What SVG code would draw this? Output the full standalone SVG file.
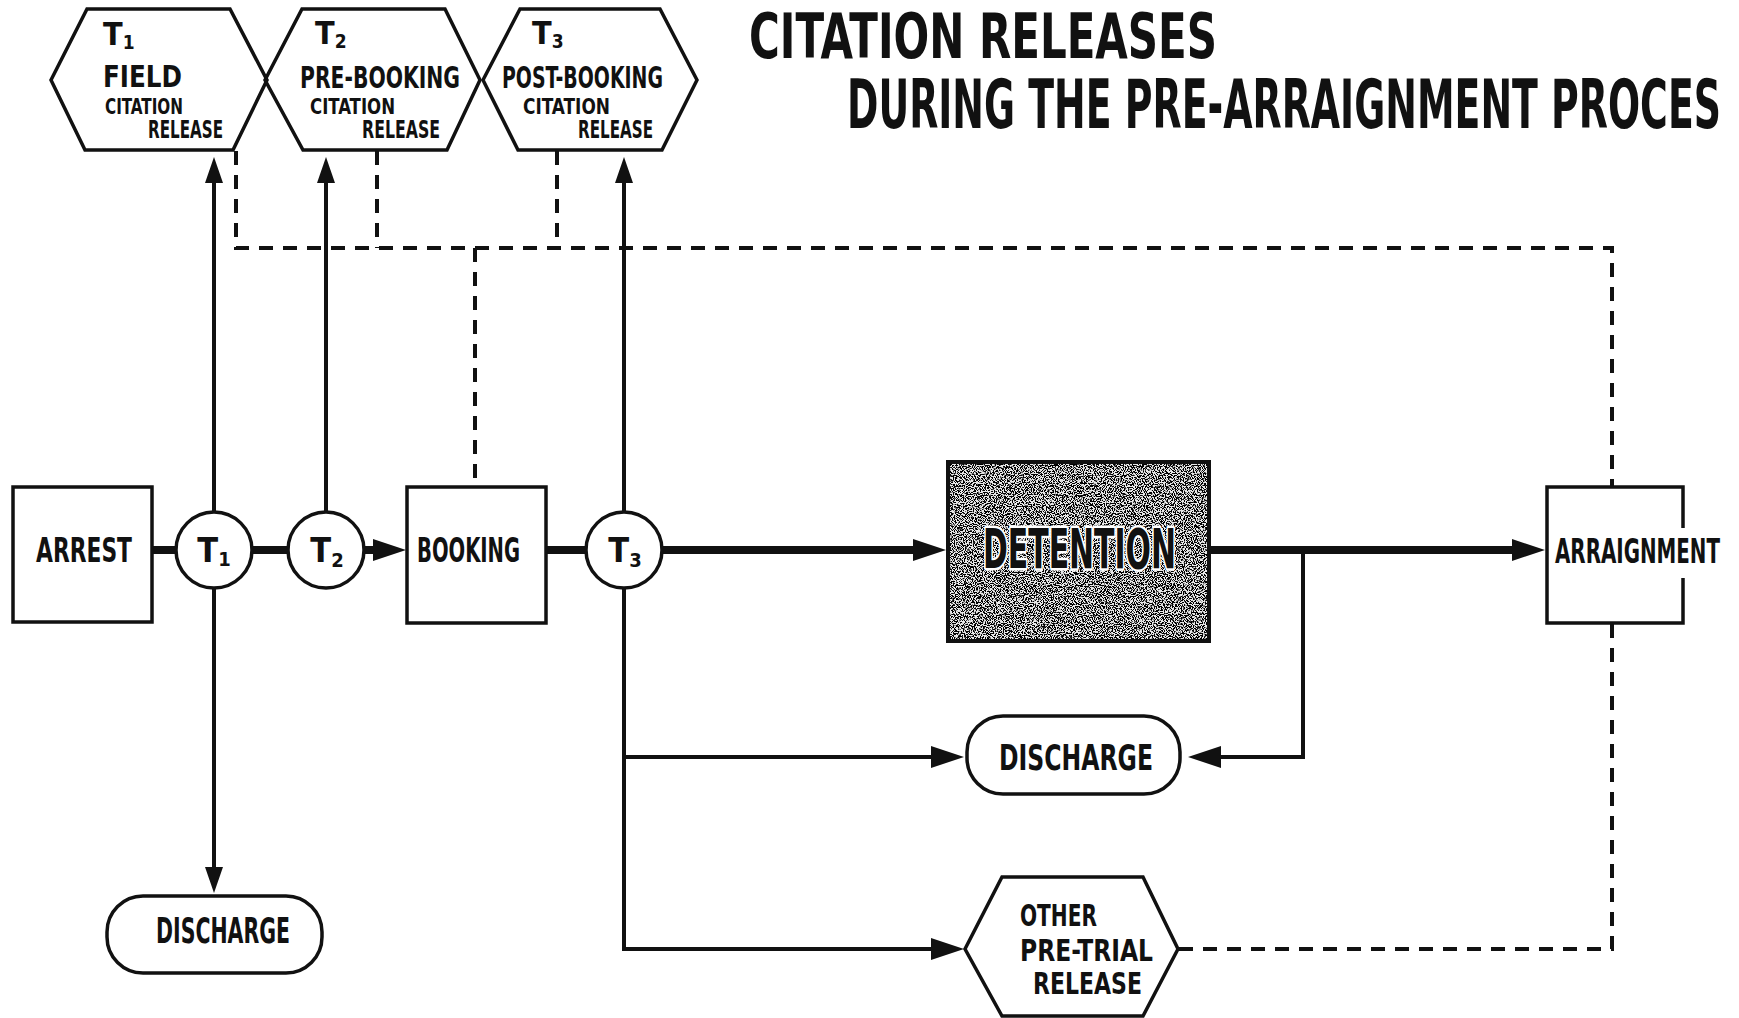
<svg xmlns="http://www.w3.org/2000/svg" width="1739" height="1018" viewBox="0 0 1739 1018">
<style>
text { font-family: "DejaVu Sans Condensed", "DejaVu Sans", "Liberation Sans", sans-serif; font-weight: bold; fill: #111; }
.box { fill: #fff; stroke: #111; stroke-width: 3.5; }
.thick { fill: none; stroke: #111; stroke-width: 8; }
.thin { fill: none; stroke: #111; stroke-width: 4; }
.dash { fill: none; stroke: #111; stroke-width: 4; stroke-dasharray: 14 10; }
</style>
<defs>
  <marker id="arr" viewBox="0 0 33 22" markerWidth="33" markerHeight="22" refX="21" refY="11" markerUnits="userSpaceOnUse" orient="auto">
    <path d="M0,0 L33,11 L0,22 z" fill="#111"/>
  </marker>
  <marker id="arrs" viewBox="0 0 26 18" markerWidth="26" markerHeight="18" refX="18" refY="9" markerUnits="userSpaceOnUse" orient="auto">
    <path d="M0,0 L26,9 L0,18 z" fill="#111"/>
  </marker>
  <filter id="speckle" x="0" y="0" width="1" height="1">
    <feTurbulence type="fractalNoise" baseFrequency="0.9" numOctaves="1" seed="7" result="noise"/>
    <feColorMatrix in="noise" type="matrix" values="0 0 0 0 0  0 0 0 0 0  0 0 0 0 0  14 0 0 0 -6.6" result="dots"/>
    <feComposite in="dots" in2="SourceGraphic" operator="in"/>
  </filter>
</defs>
<rect x="0" y="0" width="1739" height="1018" fill="#fff"/>

<g id="title">
  <text x="749" y="58" font-size="62" textLength="468" lengthAdjust="spacingAndGlyphs">CITATION RELEASES</text>
  <text x="847" y="128" font-size="68" textLength="874" lengthAdjust="spacingAndGlyphs">DURING THE PRE-ARRAIGNMENT PROCES</text>
</g>

<g id="connectors">
  <path class="thick" d="M152,550 H176"/>
  <path class="thick" d="M252,550 H288"/>
  <path class="thick" d="M364,550 H394" marker-end="url(#arr)"/>
  <path class="thick" d="M546,550 H586"/>
  <path class="thick" d="M662,550 H934" marker-end="url(#arr)"/>
  <path class="thick" d="M1209,550 H1533" marker-end="url(#arr)"/>
  <path class="thin" d="M214,512 V165" marker-end="url(#arrs)"/>
  <path class="thin" d="M326,512 V165" marker-end="url(#arrs)"/>
  <path class="thin" d="M624,512 V165" marker-end="url(#arrs)"/>
  <path class="thin" d="M214,588 V885" marker-end="url(#arrs)"/>
  <path class="thin" d="M624,589 V949 H952" marker-end="url(#arr)"/>
  <path class="thin" d="M624,757 H952" marker-end="url(#arr)"/>
  <path class="thin" d="M1303,550 V757 H1200" marker-end="url(#arr)"/>
  <path class="dash" d="M236,151 V248 H1612 V487"/>
  <path class="dash" d="M377,151 V248"/>
  <path class="dash" d="M557,151 V248"/>
  <path class="dash" d="M475,248 V487"/>
  <path class="dash" d="M1179,949 H1612 V623"/>
</g>

<g id="hex-field">
  <polygon class="box" points="51,80 87,9 230,9 267,80 233,150 85,150"/>
  <text x="103" y="45" font-size="32">T<tspan font-size="19" dy="4">1</tspan></text>
  <text x="103" y="87" font-size="31" textLength="79" lengthAdjust="spacingAndGlyphs">FIELD</text>
  <text x="105" y="114" font-size="21" textLength="78" lengthAdjust="spacingAndGlyphs">CITATION</text>
  <text x="148" y="138" font-size="24" textLength="75" lengthAdjust="spacingAndGlyphs">RELEASE</text>
</g>
<g id="hex-prebooking">
  <polygon class="box" fill-opacity="0" points="265,80 302,9 445,9 480,80 447,150 303,150"/>
  <text x="315" y="44" font-size="32">T<tspan font-size="19" dy="4">2</tspan></text>
  <text x="300" y="88" font-size="31" textLength="160" lengthAdjust="spacingAndGlyphs">PRE-BOOKING</text>
  <text x="310" y="114" font-size="21" textLength="85" lengthAdjust="spacingAndGlyphs">CITATION</text>
  <text x="362" y="138" font-size="24" textLength="78" lengthAdjust="spacingAndGlyphs">RELEASE</text>
</g>
<g id="hex-postbooking">
  <polygon class="box" fill-opacity="0" points="483,80 520,9 660,9 697,80 662,150 518,150"/>
  <text x="532" y="44" font-size="32">T<tspan font-size="19" dy="4">3</tspan></text>
  <text x="502" y="88" font-size="31" textLength="161" lengthAdjust="spacingAndGlyphs">POST-BOOKING</text>
  <text x="523" y="114" font-size="21" textLength="87" lengthAdjust="spacingAndGlyphs">CITATION</text>
  <text x="578" y="138" font-size="24" textLength="75" lengthAdjust="spacingAndGlyphs">RELEASE</text>
</g>

<g id="arrest">
  <rect class="box" x="13" y="487" width="139" height="135"/>
  <text x="36" y="562" font-size="34" textLength="96" lengthAdjust="spacingAndGlyphs">ARREST</text>
</g>
<g id="t1">
  <circle class="box" cx="214" cy="550" r="38"/>
  <text x="214" y="562" font-size="34" text-anchor="middle">T<tspan font-size="20" dy="4">1</tspan></text>
</g>
<g id="t2">
  <circle class="box" cx="326" cy="550" r="38"/>
  <text x="327" y="562" font-size="34" text-anchor="middle">T<tspan font-size="20" dy="5">2</tspan></text>
</g>
<g id="booking">
  <rect class="box" x="407" y="487" width="139" height="136"/>
  <text x="417" y="562" font-size="34" textLength="103" lengthAdjust="spacingAndGlyphs">BOOKING</text>
</g>
<g id="t3">
  <circle class="box" cx="624" cy="550" r="38"/>
  <text x="625" y="562" font-size="34" text-anchor="middle">T<tspan font-size="20" dy="5">3</tspan></text>
</g>
<g id="detention">
  <rect x="948" y="462" width="261" height="179" fill="#e8e8e8"/>
  <rect x="948" y="462" width="261" height="179" fill="#fff" filter="url(#speckle)"/>
  <rect x="948" y="462" width="261" height="179" fill="none" stroke="#111" stroke-width="4"/>
  <text x="983" y="568" font-size="55" textLength="193" lengthAdjust="spacingAndGlyphs" stroke="#fff" stroke-width="5" paint-order="stroke" stroke-linejoin="round">DETENTION</text>
</g>
<g id="arraignment">
  <rect x="1547" y="487" width="136" height="136" fill="#fff"/>
  <path class="box" fill="none" d="M1683,528 V487 H1547 V623 H1683 V578"/>
  <text x="1555" y="563" font-size="34" textLength="165" lengthAdjust="spacingAndGlyphs">ARRAIGNMENT</text>
</g>
<g id="discharge-1">
  <rect class="box" x="107" y="896" width="215" height="77" rx="36"/>
  <text x="156" y="943" font-size="35" textLength="134" lengthAdjust="spacingAndGlyphs">DISCHARGE</text>
</g>
<g id="discharge-2">
  <rect class="box" x="967" y="716" width="213" height="78" rx="36"/>
  <text x="999" y="770" font-size="36" textLength="154" lengthAdjust="spacingAndGlyphs">DISCHARGE</text>
</g>
<g id="other-pretrial">
  <polygon class="box" points="965,949 1002,877 1143,877 1178,949 1143,1016 1002,1016"/>
  <text x="1020" y="926" font-size="30" textLength="77" lengthAdjust="spacingAndGlyphs">OTHER</text>
  <text x="1020" y="961" font-size="30" textLength="133" lengthAdjust="spacingAndGlyphs">PRE-TRIAL</text>
  <text x="1033" y="994" font-size="30" textLength="109" lengthAdjust="spacingAndGlyphs">RELEASE</text>
</g>
</svg>
